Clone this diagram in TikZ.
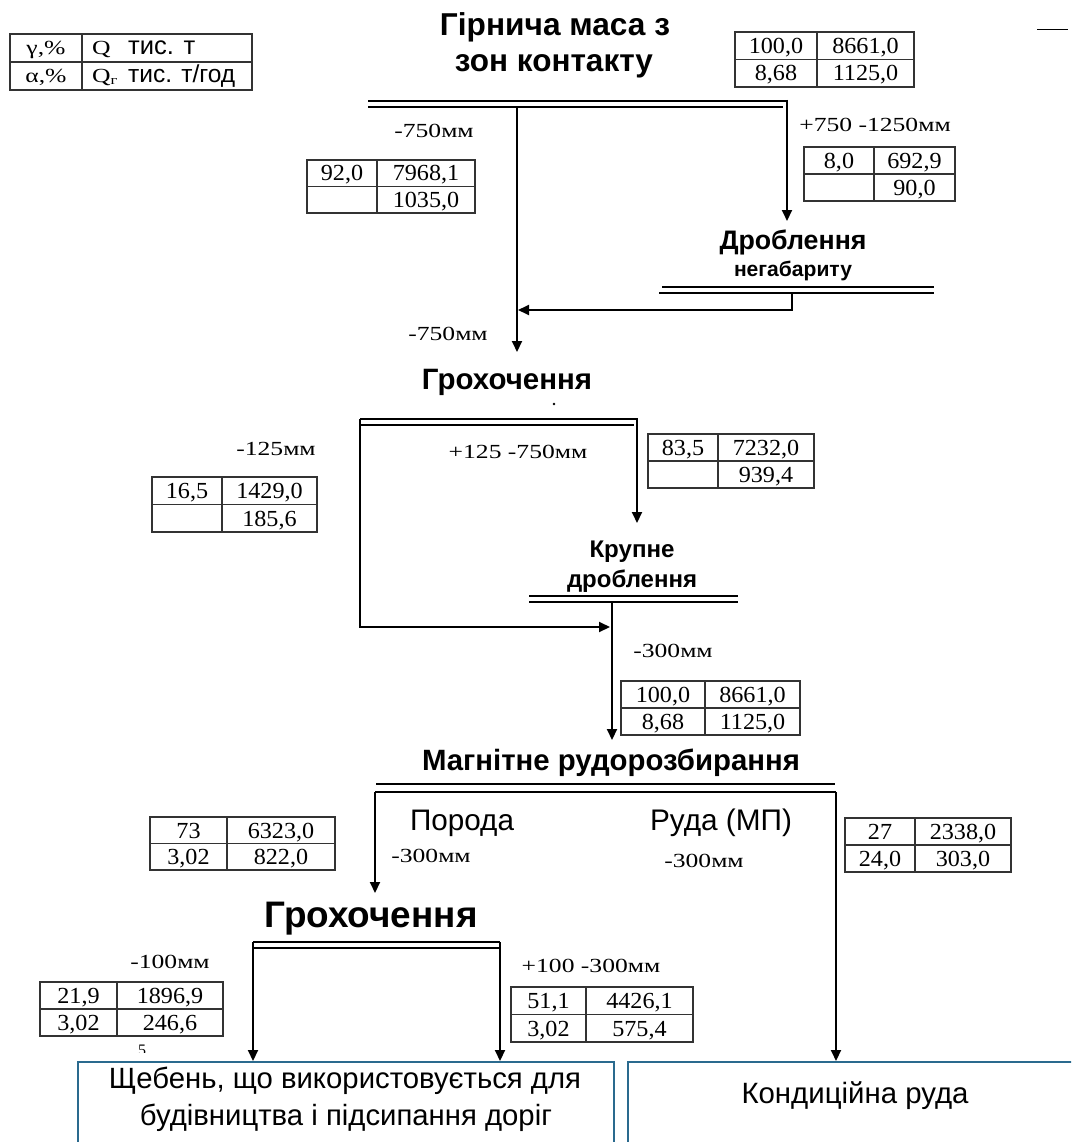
\documentclass[tikz,border=0pt]{standalone}
\usepackage{fontspec}
\setmainfont{Liberation Serif}
\newfontfamily\arialfont{Liberation Sans}
\usetikzlibrary{arrows.meta,calc}
\definecolor{boxblue}{HTML}{2A6A8E}
\newcommand\tnum[1]{\scalebox{1.05}[1]{#1}}
\newcommand\tlab[1]{\scalebox{1.28}[1]{#1}}
\newcommand\fitw[2]{\resizebox{#1pt}{!}{#2}}
\tikzset{
  flow/.style={line width=2pt, -{Triangle[length=11pt,width=10pt]}},
  thickscr/.style={line width=2.8pt},
  thinscr/.style={line width=1.1pt},
  tblline/.style={line width=1.2pt, draw=black!80},
  num/.style={font=\fontsize{23}{23}\selectfont, inner sep=0pt, text height=15.5pt, text depth=0pt},
  lbl/.style={font=\fontsize{20}{20}\selectfont, inner sep=0pt, anchor=base},
  hdr/.style={font=\arialfont\bfseries\fontsize{20}{20}\selectfont, inner sep=0pt, anchor=base},
  plaintext/.style={font=\arialfont\fontsize{20}{20}\selectfont, inner sep=0pt, anchor=base},
  outbox/.style={draw=boxblue, line width=1.5pt, fill=white},
}
% name, nw corner, split x, se corner, four cell texts
\newcommand\datatable[8]{%
  \coordinate (#1-nw) at (#2);
  \coordinate (#1-se) at (#4);
  \coordinate (#1-sp) at (#3,0);
  \coordinate (#1-m) at ($(#1-nw)!0.5!(#1-se)$);
  \draw[tblline] (#1-nw) rectangle (#1-se);
  \draw[tblline] (#1-nw |- #1-m) -- (#1-se |- #1-m);
  \draw[tblline] (#1-sp |- #1-nw) -- (#1-sp |- #1-se);
  \node[num] (#1-a) at ($(#1-nw)!0.5!(#1-sp |- #1-m)$) {\tnum{#5}};
  \node[num] (#1-b) at ($(#1-sp |- #1-nw)!0.5!(#1-se |- #1-m)$) {\tnum{#6}};
  \node[num] (#1-c) at ($(#1-nw |- #1-m)!0.5!(#1-sp |- #1-se)$) {\tnum{#7}};
  \node[num] (#1-d) at ($(#1-sp |- #1-m)!0.5!(#1-se)$) {\tnum{#8}};
}
\begin{document}
\begin{tikzpicture}[x=1pt,y=-1pt]
\clip (0,0) rectangle (1071,1142);
\fill[white] (0,0) rectangle (1071,1142);

% ---------- legend ----------
\coordinate (lg-nw) at (10,34);
\coordinate (lg-se) at (252,90);
\draw[tblline] (lg-nw) rectangle (lg-se);
\draw[tblline] (10,62) -- (252,62);
\draw[tblline] (82,34) -- (82,90);
\node[lbl] (lg-a) at (46,55) {\tlab{γ,\%}};
\node[lbl] (lg-c) at (46,83) {\tlab{α,\%}};
\node[lbl, anchor=base west] (lg-q1) at (92,55) {\tlab{Q}};
\node[lbl, anchor=base west] (lg-q2) at (92,83) {\tlab{Q\raisebox{-2pt}{\fontsize{13}{13}\selectfont г}}};
\node[plaintext, anchor=base west] (lg-b) at (128,55) {\fitw{67}{тис. т}};
\node[plaintext, anchor=base west] (lg-d) at (128,83) {\fitw{107}{тис. т/год}};
\draw[line width=1pt] (1037,30) coordinate (mark-a) -- (1068,30) coordinate (mark-b);

% ---------- titles ----------
\node[hdr] (title1) at (555,36) {\fitw{230}{Гірнича маса з}};
\node[hdr] (title2) at (554,72) {\fitw{198}{зон контакту}};

\datatable{t1}{735,32}{817}{914,87}{100,0}{8661,0}{8,68}{1125,0}

% ---------- screen 1 ----------
\coordinate (s1-l) at (368,101);
\coordinate (s1-r) at (787,101);
\draw[thickscr] (s1-l) -- (s1-r);
\draw[thinscr] (368,107) coordinate (s1-tl) -- (783,107) coordinate (s1-tr);
\coordinate (s1-out) at (517,107);
\coordinate (s1-over) at (787,100);
\node[lbl] (l750a) at (434,138) {\tlab{-750мм}};
\node[lbl] (l7501250) at (875,132) {\tlab{+750 -1250мм}};
\datatable{t2}{307,160}{377}{475,213}{92,0}{7968,1}{}{1035,0}
\datatable{t3}{804,147}{874}{955,201}{8,0}{692,9}{}{90,0}

% ---------- crushing oversize ----------
\node[hdr] (drob) at (793,249) {\fitw{147}{Дроблення}};
\node[hdr] (negab) at (793,276) {\fitw{118}{негабариту}};
\draw[thickscr] (662,287) coordinate (s2-l) -- (934,287) coordinate (s2-r);
\draw[thinscr] (659,293) coordinate (s2-tl) -- (934,293) coordinate (s2-tr);
\coordinate (s2-out) at (792,293);
\coordinate (s2-turn) at (792,310);
\coordinate (drob-in) at (787,221);
\draw[flow] (s1-over) -- (drob-in);
\coordinate (join1) at (518,310);
\draw[flow] (s2-out) -- (s2-turn) -- (join1);

\node[lbl] (l750b) at (448,340) {\tlab{-750мм}};
\coordinate (grokh1-in) at (517,352);
\draw[flow] (s1-out) -- (grokh1-in);

% ---------- screening 1 ----------
\node[hdr] (grokh1) at (507,389) {\fitw{170}{Грохочення}};
\fill (554,404) circle (1.3pt);
\draw[thickscr] (360,419) coordinate (s3-l) -- (638,419) coordinate (s3-r);
\draw[thinscr] (360,425) coordinate (s3-tl) -- (634,425) coordinate (s3-tr);
\node[lbl] (l125) at (276,455) {\tlab{-125мм}};
\node[lbl] (l125750) at (518,458) {\tlab{+125 -750мм}};
\datatable{t4}{152,477}{222}{317,532}{16,5}{1429,0}{}{185,6}
\datatable{t5}{648,434}{718}{814,488}{83,5}{7232,0}{}{939,4}
\coordinate (s3-over) at (637,419);
\coordinate (krup-in) at (637,523);
\draw[flow] (s3-over) -- (krup-in);

% ---------- coarse crushing ----------
\node[hdr] (krup1) at (632,557) {\fitw{85}{Крупне}};
\node[hdr] (krup2) at (632,587) {\fitw{130}{дроблення}};
\draw[thickscr] (529,596) coordinate (s4-l) -- (738,596) coordinate (s4-r);
\draw[thinscr] (529,602) coordinate (s4-tl) -- (738,602) coordinate (s4-tr);
\coordinate (s3-under) at (360,419);
\coordinate (s3-turn) at (360,627);
\coordinate (join2) at (610,627);
\draw[flow] (s3-under) -- (s3-turn) -- (join2);
\node[lbl] (l300a) at (673,657) {\tlab{-300мм}};
\datatable{t6}{621,681}{705}{800,735}{100,0}{8661,0}{8,68}{1125,0}
\coordinate (s4-out) at (612,602);
\coordinate (magn-in) at (612,740);
\draw[flow] (s4-out) -- (magn-in);

% ---------- magnetic sorting ----------
\node[hdr] (magn) at (611,770) {\fitw{378}{Магнітне рудорозбирання}};
\draw[thinscr] (376,784) coordinate (s5-tl) -- (835,784) coordinate (s5-tr);
\draw[thickscr] (375,792) coordinate (s5-l) -- (836,792) coordinate (s5-r);
\node[plaintext] (poroda) at (462,830) {\fitw{104}{Порода}};
\node[plaintext] (ruda) at (721,830) {\fitw{142}{Руда (МП)}};
\node[lbl] (l300b) at (431,862) {\tlab{-300мм}};
\node[lbl] (l300c) at (704,867) {\tlab{-300мм}};
\datatable{t7}{150,817}{227}{335,870}{73}{6323,0}{3,02}{822,0}
\datatable{t8}{845,818}{915}{1011,872}{27}{2338,0}{24,0}{303,0}
\coordinate (grokh2-in) at (375,893);
\draw[flow] (s5-l) -- (grokh2-in);

% ---------- screening 2 ----------
\node[hdr] (grokh2) at (371,927) {\fitw{213}{Грохочення}};
\draw[thickscr] (253,942) coordinate (s6-l) -- (500,942) coordinate (s6-r);
\draw[thinscr] (253,948) coordinate (s6-tl) -- (500,948) coordinate (s6-tr);
\node[lbl] (l100) at (170,968) {\tlab{-100мм}};
\node[lbl] (l100300) at (591,972) {\tlab{+100 -300мм}};
\datatable{t9}{40,982}{117}{223,1036}{21,9}{1896,9}{3,02}{246,6}
\datatable{t10}{511,987}{586}{693,1042}{51,1}{4426,1}{3,02}{575,4}
\begin{scope}
  \clip (130,1038) rectangle (156,1052);
  \node[lbl] (five) at (142,1055) {\fontsize{16}{16}\selectfont 5};
\end{scope}

% ---------- products ----------
\node[outbox, minimum width=536pt, minimum height=100pt, anchor=north west] (product1) at (77,1061) {};
\node[outbox, minimum width=460pt, minimum height=100pt, anchor=north west] (product2) at (627,1061) {};
\node[plaintext] (p1a) at (345,1088) {\fitw{472}{Щебень, що використовується для}};
\node[plaintext] (p1b) at (346,1125) {\fitw{412}{будівництва і підсипання доріг}};
\node[plaintext] (p2) at (855,1103) {\fitw{227}{Кондиційна руда}};
\draw[flow] (s6-l) -- (s6-l |- product1.north);
\draw[flow] (s6-r) -- (s6-r |- product1.north);
\draw[flow] (s5-r) -- (s5-r |- product2.north);
\end{tikzpicture}
\end{document}
